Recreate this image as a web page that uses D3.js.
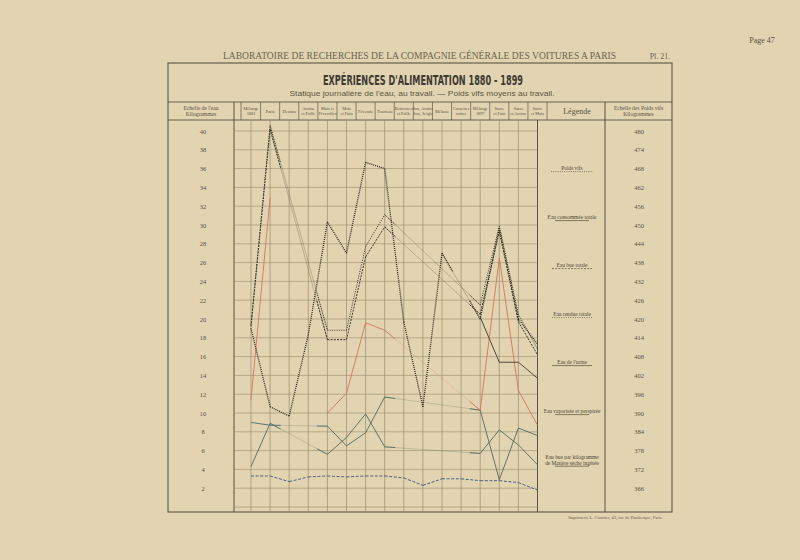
<!DOCTYPE html>
<html><head><meta charset="utf-8">
<script src="https://cdn.jsdelivr.net/npm/d3@7"></script>
<style>
html,body{margin:0;padding:0;background:#e2d4b0;}
svg{display:block;}
</style></head>
<body>
<svg id="c" width="800" height="560"></svg>
<script>
// ---------- DATA ----------
const categories = [
  ["Mélange","1881"],["Paris",""],["Dessins",""],["Avoine","et Paille"],["Maïs et","Féverolles"],
  ["Maïs","et Foin"],["Féverole",""],["Tourteau",""],["Betteraves","et Paille"],["Son, Avoine","Son, Seigle"],
  ["Mélasse",""],["Cossettes","cuites"],["Mélange","1897"],["Sucre","et Foin"],["Sucre","et Avoine"],["Sucre","et Maïs"]
];
const waterTicks = [40,38,36,34,32,30,28,26,24,22,20,18,16,14,12,10,8,6,4,2];
const weightTicks = [480,474,468,462,456,450,444,438,432,426,420,414,408,402,396,390,384,378,372,366];

// Poids vifs (kg, right scale)
const poidsVifs   = [417,392,389,415,451,441,470,468,419,392,441,null,420,449,420,412];
// water series (kg, left scale)
const eauConsommee = [19.4,40.6,null,null,18.8,18.8,27.7,31.1,null,null,null,null,21.5,29.9,20.5,16.8];
const eauBue       = [19.2,40.2,null,null,17.8,17.8,26.6,29.8,null,null,null,null,20.5,29.3,19.7,16.2];
const eauRendue    = [null,null,null,null,null,null,null,null,null,null,null,null,20.2,15.4,15.4,13.7];
const eauUrine     = [9.0,8.7,null,null,8.6,6.5,7.9,11.7,null,null,null,null,10.3,2.9,8.4,7.6];
const eauVaporisee = [11.4,32.9,null,null,10.0,12.1,19.6,18.8,null,null,null,null,10.3,26.5,12.4,8.7];
const eauAutre     = [4.3,8.9,null,null,5.6,7.4,9.9,6.4,null,null,null,null,5.7,8.2,6.6,4.5];
const eauParKgMS   = [3.3,3.3,2.7,3.2,3.3,3.2,3.3,3.3,3.1,2.3,3.0,3.0,2.8,2.8,2.6,1.8];

const legendItems = [
  ["Poids vifs"],["Eau consommée totale"],["Eau bue totale"],["Eau rendue totale"],
  ["Eau de l'urine"],["Eau vaporisée et perspirée"],["Eau bue par kilogramme","de Matière sèche ingérée"]
];

// ---------- LAYOUT ----------
const svg = d3.select("#c");
const L = 168, R = 672, T = 63, B = 512;
const hdrTop = 102, hdrBot = 120;
const plotL = 234, firstX = 251, lastX = 537.5, legR = 605;
const ink = "#4a4437", grid = "#978c70";

const x = d3.scalePoint().domain(d3.range(categories.length)).range([firstX, lastX]);
const colW = x.step();
const yW = d3.scaleLinear().domain([0, 40]).range([507, 131]);
const yP = d3.scaleLinear().domain([360, 480]).range([507, 131]);

const serif = "'Liberation Serif','DejaVu Serif',serif";

// page texts
svg.append("text").attr("x", 762).attr("y", 43).attr("font-family", serif).attr("font-size", 8)
  .attr("fill", "#5a5345").attr("text-anchor", "middle").text("Page 47");
svg.append("text").attr("x", 223).attr("y", 59).attr("font-family", serif).attr("font-size", 9.5)
  .attr("fill", "#6a6352").attr("textLength", 393).attr("lengthAdjust", "spacingAndGlyphs")
  .text("LABORATOIRE DE RECHERCHES DE LA COMPAGNIE GÉNÉRALE DES VOITURES A PARIS");
svg.append("text").attr("x", 660).attr("y", 59).attr("font-family", serif).attr("font-size", 8)
  .attr("fill", "#6a6352").attr("text-anchor", "middle").text("Pl. 21.");

// frame
svg.append("rect").attr("x", L).attr("y", T).attr("width", R - L).attr("height", B - T)
  .attr("fill", "none").attr("stroke", "#5a5345").attr("stroke-width", 1.1);

// title
svg.append("text").attr("x", 423).attr("y", 85).attr("text-anchor", "middle")
  .attr("font-family", "'Liberation Sans Narrow','DejaVu Sans Condensed','Liberation Sans',sans-serif")
  .attr("font-weight", "bold").attr("font-size", 13.5).attr("fill", "#3c3a36")
  .attr("textLength", 200).attr("lengthAdjust", "spacingAndGlyphs")
  .text("EXPÉRIENCES D'ALIMENTATION  1880 - 1899");
svg.append("text").attr("x", 422).attr("y", 96).attr("text-anchor", "middle")
  .attr("font-family", "'Liberation Sans','DejaVu Sans',sans-serif").attr("font-size", 8)
  .attr("fill", "#5a5447").attr("textLength", 265).attr("lengthAdjust", "spacingAndGlyphs")
  .text("Statique journalière de l'eau, au travail. — Poids vifs moyens au travail.");

// header row lines
const g = svg.append("g");
g.append("line").attr("x1", L).attr("x2", R).attr("y1", hdrTop).attr("y2", hdrTop).attr("stroke", ink).attr("stroke-width", 0.8);
g.append("line").attr("x1", L).attr("x2", R).attr("y1", hdrBot).attr("y2", hdrBot).attr("stroke", ink).attr("stroke-width", 0.8);

// header cell boundaries (between columns)
const hdrBounds = [241].concat(d3.range(categories.length).map(i => x(i) + colW / 2));
hdrBounds.forEach(b => g.append("line").attr("x1", b).attr("x2", b).attr("y1", hdrTop).attr("y2", hdrBot)
  .attr("stroke", ink).attr("stroke-width", 0.6));

// main column separators
[plotL, legR].forEach(b => g.append("line").attr("x1", b).attr("x2", b).attr("y1", hdrTop).attr("y2", B)
  .attr("stroke", ink).attr("stroke-width", 0.9));
g.append("line").attr("x1", lastX).attr("x2", lastX).attr("y1", hdrBot).attr("y2", B).attr("stroke", ink).attr("stroke-width", 0.9);

// header texts
function hdrText(cx, lines, fs) {
  const t = g.append("text").attr("text-anchor", "middle").attr("font-family", serif)
    .attr("font-size", fs).attr("fill", "#5a5345");
  const n = lines.filter(s => s).length;
  lines.filter(s => s).forEach((s, i) => {
    t.append("tspan").attr("x", cx).attr("y", (hdrTop + hdrBot) / 2 + (i - (n - 1) / 2) * (fs + 0.8) + fs * 0.35).text(s);
  });
}
hdrText(201, ["Echelle de l'eau", "Kilogrammes"], 5.6);
categories.forEach((c, i) => hdrText(x(i), c, 4.3));
hdrText(577, ["Légende"], 8);
hdrText(638.5, ["Echelle des Poids vifs", "Kilogrammes"], 5.6);

// grid
const gridG = svg.append("g");
d3.range(0, 41, 2).forEach(v => gridG.append("line").attr("x1", plotL).attr("x2", lastX)
  .attr("y1", yW(v)).attr("y2", yW(v)).attr("stroke", grid).attr("stroke-width", 0.6));
d3.range(categories.length - 1).forEach(i => gridG.append("line").attr("x1", x(i)).attr("x2", x(i))
  .attr("y1", hdrBot).attr("y2", B).attr("stroke", grid).attr("stroke-width", 0.7));

// axes (scale columns)
const leftAxis = d3.axisLeft(yW).tickValues(waterTicks).tickSize(0).tickPadding(0);
const la = svg.append("g").attr("transform", "translate(203,0)").call(leftAxis);
la.select(".domain").remove();
la.selectAll("text").attr("font-family", serif).attr("font-size", 6.5).attr("fill", "#5a5345")
  .attr("text-anchor", "middle").attr("x", 0);
const rightAxis = d3.axisRight(yP).tickValues(weightTicks).tickSize(0).tickPadding(0);
const ra = svg.append("g").attr("transform", "translate(639,0)").call(rightAxis);
ra.select(".domain").remove();
ra.selectAll("text").attr("font-family", serif).attr("font-size", 6.5).attr("fill", "#5a5345")
  .attr("text-anchor", "middle").attr("x", 0);

// ---------- SERIES ----------
// noBridge: indices after which a gap is left open (no connector)
const series = [
  {vals: eauParKgMS, sc: yW, color: "#3d5282", w: 0.9, dash: "3,1.6", noBridge: []},
  {vals: eauAutre, sc: yW, color: "#4b6b68", w: 0.9, dash: null, noBridge: []},
  {vals: eauUrine, sc: yW, color: "#4b6b68", w: 0.9, dash: null, noBridge: []},
  {vals: eauVaporisee, sc: yW, color: "#d9735b", w: 0.9, dash: null, noBridge: [1]},
  {vals: eauRendue, sc: yW, color: "#3d3a35", w: 0.9, dash: null, noBridge: []},
  {vals: eauBue, sc: yW, color: "#3a352e", w: 1.0, dash: "2,1.2", noBridge: []},
  {vals: eauConsommee, sc: yW, color: "#3a352e", w: 1.0, dash: "1,1.3", noBridge: []},
  {vals: poidsVifs, sc: yP, color: "#2d2924", w: 1.3, dash: "1,1", noBridge: []}
];
const lineGen = d3.line().x(d => d[0]).y(d => d[1]);
const sg = svg.append("g");
series.forEach(s => {
  const pts = s.vals.map((v, i) => v == null ? null : [x(i), s.sc(v), i]).filter(p => p);
  for (let k = 0; k < pts.length - 1; k++) {
    const a = pts[k], b = pts[k + 1];
    if (b[2] - a[2] === 1) {
      sg.append("path").attr("d", lineGen([a, b])).attr("fill", "none").attr("stroke", s.color)
        .attr("stroke-width", s.w).attr("stroke-dasharray", s.dash);
    } else if (!s.noBridge.includes(a[2])) {
      sg.append("path").attr("d", lineGen([a, b])).attr("fill", "none").attr("stroke", s.color)
        .attr("stroke-width", 0.45).attr("stroke-opacity", 0.55);
      const f = 0.55 * colW / (b[0] - a[0]);
      const pa = [a[0] + (b[0] - a[0]) * f, a[1] + (b[1] - a[1]) * f];
      const pb = [b[0] - (b[0] - a[0]) * f, b[1] - (b[1] - a[1]) * f];
      [[a, pa], [pb, b]].forEach(seg => sg.append("path").attr("d", lineGen(seg)).attr("fill", "none")
        .attr("stroke", s.color).attr("stroke-width", s.w).attr("stroke-dasharray", s.dash));
    }
  }
});

// ---------- LEGEND ----------
const legY = [170, 219, 267, 316, 364, 413, 459];
const legStyles = [
  {dash: "1,1.2", c: "#3a352e"}, {dash: null, c: "#3a352e"}, {dash: "2,1.2", c: "#3a352e"},
  {dash: "1,1.3", c: "#3a352e"}, {dash: null, c: "#3a352e"}, {dash: null, c: "#3a352e"}, {dash: null, c: "#3a352e"}
];
legendItems.forEach((it, i) => {
  const cx = 572;
  const t = svg.append("text").attr("text-anchor", "middle").attr("font-family", serif)
    .attr("font-size", 5.4).attr("fill", "#4d473b");
  it.forEach((s, j) => t.append("tspan").attr("x", cx).attr("y", legY[i] + j * 5.6).text(s));
  const ly = legY[i] + (it.length - 1) * 5.6 + 1.6;
  const half = i === 0 ? 21 : (i === 2 || i === 3 || i === 4 ? 20 : 17);
  svg.append("line").attr("x1", cx - half).attr("x2", cx + half).attr("y1", ly).attr("y2", ly)
    .attr("stroke", legStyles[i].c).attr("stroke-width", 0.6).attr("stroke-dasharray", legStyles[i].dash);
});

// credit
svg.append("text").attr("x", 615).attr("y", 519).attr("text-anchor", "middle").attr("font-family", serif)
  .attr("font-size", 4.5).attr("fill", "#6a6352").text("Imprimerie L. Courtier, 43, rue de Dunkerque, Paris");
</script>
</body></html>
